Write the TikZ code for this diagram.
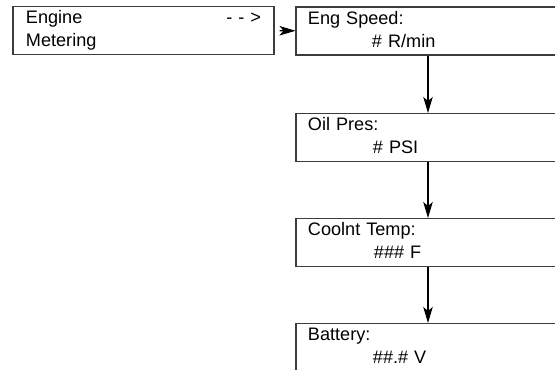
\documentclass[tikz,border=0pt]{standalone}
\usepackage{fontspec}
\setmainfont{Liberation Sans}
\usepackage{tikz}
\usetikzlibrary{arrows.meta, positioning}
\definecolor{Borde}{RGB}{60,60,60}

\begin{document}
\begin{tikzpicture}[
      menu/.style ={draw=Borde,line width=0.6pt,rectangle,
                    minimum height=0.96cm,inner ysep=0pt,
                    font=\fontsize{10.3}{13.1}\selectfont,align=left},
      raiz/.style ={menu,inner xsep=0.26cm,text width=4.7cm},
      hoja/.style ={menu,inner xsep=0.24cm,text width=4.8cm},
      fl/.style   ={-{Stealth[length=0.32cm,width=0.19cm,inset=0.08cm]},black,line width=0.6pt}]
      \useasboundingbox (0,0) rectangle (11.1,-7.38);
      \node[raiz] (eng)   at (2.87,-0.61){\strut Engine\hfill- - >\\\strut Metering};
      \node[hoja] (speed) at (8.56,-0.62){\strut Eng Speed:\\\strut\hspace*{1.28cm}\# R/min};
      \node[hoja] (oil)   at (8.56,-2.75){\strut Oil Pres:\\\strut\hspace*{1.30cm}\# PSI};
      \node[hoja] (temp)  at (8.56,-4.85){\strut Coolnt Temp:\\\strut\hspace*{1.32cm}\#\#\# F};
      \node[hoja] (bat)   at (8.56,-6.95){\strut Battery:\\\strut\hspace*{1.30cm}\#\#.\# V};
      \draw[fl,shorten <=0.1cm] (eng)--(speed);
      \foreach \a/\b in {speed/oil,oil/temp,temp/bat}
        \draw[fl] (\a)--(\b);
    \end{tikzpicture}
\end{document}
